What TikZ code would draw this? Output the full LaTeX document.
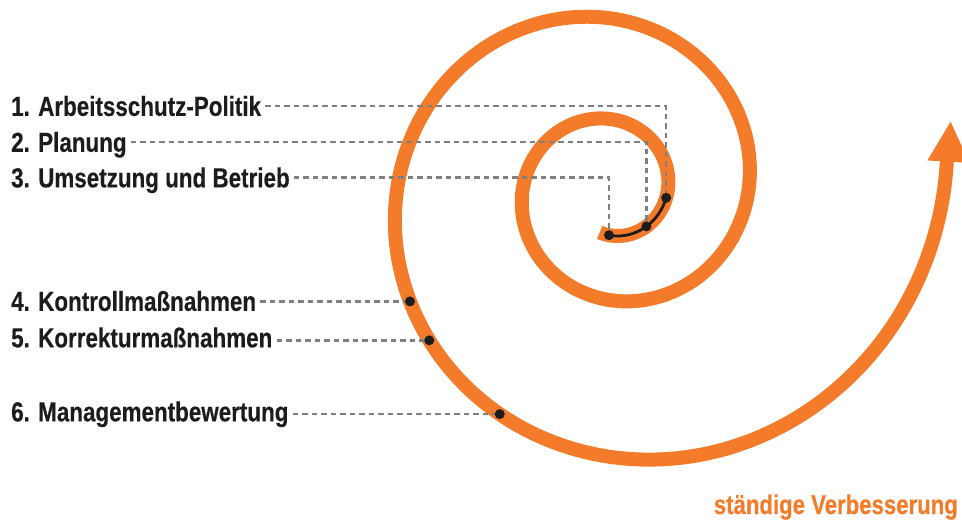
\documentclass[tikz,border=0pt]{standalone}
\usepackage{fontspec}
\newfontfamily\labfont{Liberation Sans}[FakeStretch=0.815,FakeBold=0.3]
\definecolor{spor}{HTML}{F47B2A}
\definecolor{leadgray}{HTML}{808080}
\definecolor{ink}{HTML}{1E1B1C}
\newcommand\SpirR[1]{56.8*exp(0.002463*(#1))}
\tikzset{
  spiral/.style={draw=spor, line width=14pt, line cap=butt},
  inkline/.style={draw=ink, line width=2.8pt},
  leader/.style={draw=leadgray, line width=2.4pt, dash pattern=on 5.5pt off 4pt},
  dot/.style={circle, fill=ink, inner sep=0pt, minimum size=10pt},
  lab/.style={anchor=west, inner sep=0pt, text height=19.7pt, text depth=0pt,
    font=\labfont\bfseries\fontsize{27.5}{30}\selectfont, text=ink},
  note/.style={anchor=base east, inner sep=0pt,
    font=\labfont\bfseries\fontsize{27.2}{30}\selectfont, text=spor}
}
\begin{document}
\begin{tikzpicture}[x=1pt,y=-1pt]
\useasboundingbox (0,0) rectangle (962,521);
% spiral
\draw[spiral] plot[domain=-105:725.3, samples=600, variable=\t]
  ({611+\SpirR{\t}*cos(\t)},{190-\SpirR{\t}*sin(\t)});
\fill[spor] (927.4,160.5) -- (950.6,121.7) -- (969.4,162.9) -- cycle;
% points on spiral
\coordinate (d1) at ({611+\SpirR{-8.1}*cos(-8.1)},{190-\SpirR{-8.1}*sin(-8.1)});
\coordinate (d2) at ({611+\SpirR{-45.8}*cos(-45.8)},{190-\SpirR{-45.8}*sin(-45.8)});
\coordinate (d3) at ({611+\SpirR{-92.6}*cos(-92.6)},{190-\SpirR{-92.6}*sin(-92.6)});
\coordinate (d4) at ({611+\SpirR{569.0}*cos(569.0)},{190-\SpirR{569.0}*sin(569.0)});
\coordinate (d5) at ({611+\SpirR{579.6}*cos(579.6)},{190-\SpirR{579.6}*sin(579.6)});
\coordinate (d6) at ({611+\SpirR{603.6}*cos(603.6)},{190-\SpirR{603.6}*sin(603.6)});
% black curve along the inner end
\draw[inkline] plot[domain=-92.6:-8.1, samples=60, variable=\t]
  ({611+\SpirR{\t}*cos(\t)},{190-\SpirR{\t}*sin(\t)});
% labels
\node[lab] (l1) at (11,106) {1. Arbeitsschutz-Politik};
\node[lab] (l2) at (11,142) {2. Planung};
\node[lab] (l3) at (11,177.5) {3. Umsetzung und Betrieb};
\node[lab] (l4) at (11,301) {4. Kontrollmaßnahmen};
\node[lab] (l5) at (11,337.5) {5. Korrekturmaßnahmen};
\node[lab] (l6) at (11,411.5) {6. Managementbewertung};
\node[note] (sv) at (958,514) {ständige Verbesserung};
% leaders
\draw[leader] ([xshift=4pt]l1.east) -| (d1);
\draw[leader] ([xshift=4pt]l2.east) -| (d2);
\draw[leader] ([xshift=4pt]l3.east) -| (d3);
\draw[leader] ([xshift=4pt]l4.east |- d4) -- (d4);
\draw[leader] ([xshift=4pt]l5.east |- d5) -- (d5);
\draw[leader] ([xshift=4pt]l6.east |- d6) -- (d6);
% dots
\foreach \d in {d1,d2,d3,d4,d5,d6} \node[dot] at (\d) {};
\end{tikzpicture}
\end{document}
